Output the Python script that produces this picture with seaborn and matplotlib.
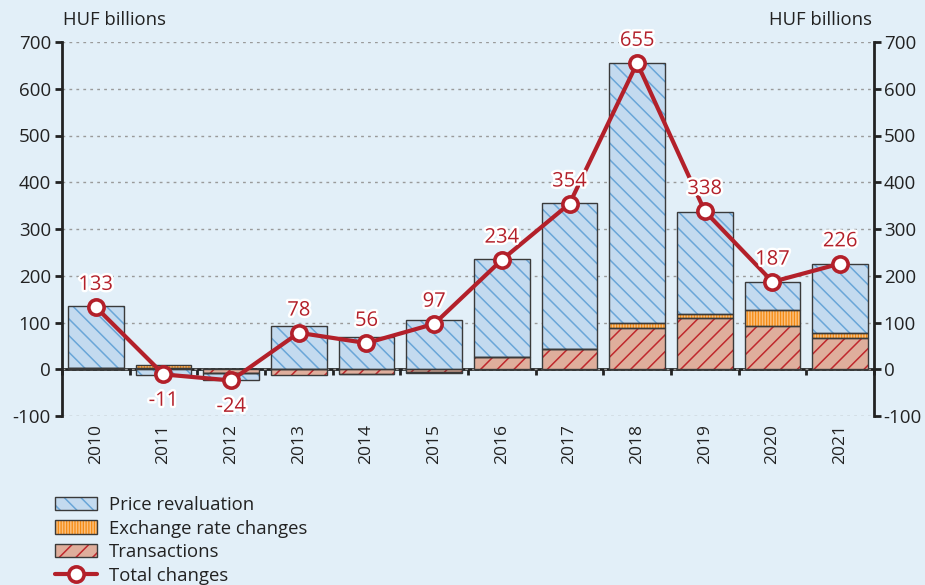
import numpy as np
import matplotlib
matplotlib.use("Agg")
import matplotlib.pyplot as plt
import seaborn as sns
from matplotlib.patches import Patch
from matplotlib.lines import Line2D
from matplotlib.legend_handler import HandlerTuple
import matplotlib.patheffects as pe

# Annual changes in holdings, HUF billions
years = [str(y) for y in range(2010, 2022)]
price_revaluation = [133, -13, -14, 92, 68, 105, 209, 313, 556, 218, 60, 149]
exchange_rate_changes = [0, 7, -2, 0, -1, -2, 0, 0, 10, 10, 34, 10]
transactions = [2, 2, -7, -13, -10, -5, 26, 43, 89, 109, 93, 67]
total_changes = [133, -11, -24, 78, 56, 97, 234, 354, 655, 338, 187, 226]
y_ticks = [-100, 0, 100, 200, 300, 400, 500, 600, 700]

BG = "#E2EFF8"
RED = "#B3202A"
EDGE = "#3a3a3a"
TXT = "#222222"
ORANGE_HATCH = "||||||"

sns.set_theme(style="white")
plt.rcParams["font.family"] = ["Open Sans", "DejaVu Sans"]
plt.rcParams["hatch.linewidth"] = 1.1
plt.rcParams["axes.unicode_minus"] = False

fig = plt.figure(figsize=(9.25, 5.85), dpi=100, facecolor=BG)
ax = fig.add_axes([62 / 925, 1 - 416 / 585, (874 - 62) / 925, (416 - 42) / 585])
ax.set_facecolor(BG)

x = np.arange(len(years))
width = 0.82

# series: (values, face colour, hatch colour, hatch)
series = [
    (transactions, "#DFAE9C", "#C0282D", "//"),
    (exchange_rate_changes, "#F58A12", "#FBC07E", ORANGE_HATCH),
    (price_revaluation, "#C3DAEF", "#6AA6D8", "\\\\"),
]

pos_base = np.zeros(len(years))
neg_base = np.zeros(len(years))
for vals, face, hcol, hatch in series:
    vals = np.asarray(vals, dtype=float)
    bottoms = np.where(vals >= 0, pos_base, neg_base)
    ax.bar(x, vals, width=width, bottom=bottoms, color=face, edgecolor=hcol,
           hatch=hatch, linewidth=0, zorder=2)
    ax.bar(x, vals, width=width, bottom=bottoms, fill=False, edgecolor=EDGE,
           linewidth=1.0, zorder=3)
    pos_base = pos_base + np.where(vals >= 0, vals, 0)
    neg_base = neg_base + np.where(vals < 0, vals, 0)

# Total changes line
sns.lineplot(x=x, y=total_changes, ax=ax, color=RED, linewidth=3, marker="o",
             markersize=11, markerfacecolor="white", markeredgecolor=RED,
             markeredgewidth=2.6, zorder=5)

for xi, v in zip(x, total_changes):
    off = 16 if v >= 0 else -19
    ax.annotate(f"{v}", (xi, v), xytext=(0, off), textcoords="offset points",
                ha="center", va="center", fontsize=14.5, color=RED, zorder=6,
                path_effects=[pe.withStroke(linewidth=3.5, foreground="white")])

ymin, ymax = -100, 700
ax.set_ylim(ymin, ymax)
ax.set_xlim(-0.5, len(years) - 0.5)
ax.set_yticks(y_ticks)
ax.yaxis.grid(True, linestyle=(0, (2, 3)), color="#9a9a9a", linewidth=1)
ax.set_axisbelow(True)

for side in ["top", "right", "bottom"]:
    ax.spines[side].set_visible(False)
ax.spines["left"].set_color(TXT)
ax.spines["left"].set_linewidth(2)
ax.tick_params(axis="y", direction="out", length=5, width=2, color=TXT,
               labelsize=13.5, labelcolor=TXT, pad=3, left=True)

ax.set_xticks(x)
ax.set_xticklabels(years, rotation=90)
ax.tick_params(axis="x", length=0, labelsize=12.5, labelcolor=TXT, pad=6)

# zero line with category boundary ticks
zero_frac = (0 - ymin) / (ymax - ymin)
sec = ax.secondary_xaxis(zero_frac)
sec.set_xticks(np.arange(-0.5, len(years), 1))
sec.set_xticklabels([])
sec.tick_params(axis="x", direction="out", length=4, width=2, color=TXT)
sec.spines["bottom"].set_linewidth(2)
sec.spines["bottom"].set_color(TXT)

# mirrored right axis
tw = ax.twinx()
tw.set_ylim(ymin, ymax)
tw.set_yticks(y_ticks)
tw.set_facecolor("none")
for side in ["top", "left", "bottom"]:
    tw.spines[side].set_visible(False)
tw.spines["right"].set_color(TXT)
tw.spines["right"].set_linewidth(2)
tw.tick_params(axis="y", direction="out", length=5, width=2, color=TXT,
               labelsize=13.5, labelcolor=TXT, pad=2, right=True)
tw.grid(False)

fig.text(63 / 925, 1 - 20 / 585, "HUF billions", ha="left", va="center",
         fontsize=13.3, color=TXT)
fig.text(872 / 925, 1 - 20 / 585, "HUF billions", ha="right", va="center",
         fontsize=13.3, color=TXT)

handles = [
    (Patch(facecolor="#C3DAEF", edgecolor="#6AA6D8", hatch="\\\\", linewidth=0),
     Patch(fill=False, edgecolor=EDGE, linewidth=1)),
    (Patch(facecolor="#F58A12", edgecolor="#FBC07E", hatch=ORANGE_HATCH, linewidth=0),
     Patch(fill=False, edgecolor=EDGE, linewidth=1)),
    (Patch(facecolor="#DFAE9C", edgecolor="#C0282D", hatch="//", linewidth=0),
     Patch(fill=False, edgecolor=EDGE, linewidth=1)),
    Line2D([], [], color=RED, linewidth=3, marker="o", markersize=11,
           markerfacecolor="white", markeredgecolor=RED, markeredgewidth=2.6),
]
labels = ["Price revaluation", "Exchange rate changes", "Transactions", "Total changes"]
fig.legend(handles, labels, loc="upper left", bbox_to_anchor=(55 / 925, 1 - 496 / 585),
           frameon=False, fontsize=13.3, handlelength=2.3, handleheight=0.75,
           labelspacing=0.3, handletextpad=0.6, borderaxespad=0, borderpad=0,
           labelcolor=TXT,
           handler_map={tuple: HandlerTuple(ndivide=1, pad=0)})

fig.savefig("out.png", dpi=100, facecolor=BG)
